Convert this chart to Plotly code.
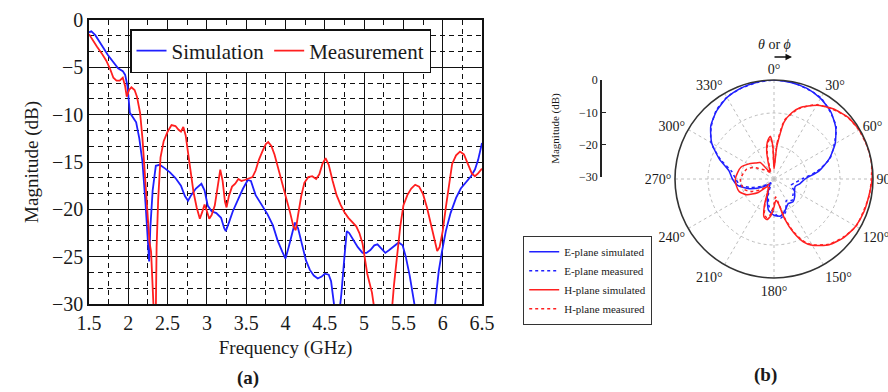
import plotly.graph_objects as go

# ---------------- (a) reflection coefficient ----------------
sim_freq = [1.50, 1.53, 1.58, 1.63, 1.68, 1.74, 1.81, 1.87, 1.93, 1.96, 1.99, 2.02, 2.06, 2.10, 2.14,
            2.18, 2.22, 2.25, 2.265, 2.28, 2.31, 2.35, 2.40, 2.47, 2.53, 2.60, 2.67, 2.72, 2.76, 2.80,
            2.86, 2.93, 2.97, 3.01, 3.06, 3.12, 3.18, 3.22, 3.24, 3.28, 3.33, 3.40, 3.46, 3.52, 3.56,
            3.62, 3.70, 3.77, 3.84, 3.90, 3.96, 4.00, 4.04, 4.08, 4.12, 4.16, 4.21, 4.26, 4.31, 4.36,
            4.41, 4.46, 4.50, 4.55, 4.58, 4.61, 4.64, 4.67, 4.71, 4.75, 4.78, 4.81, 4.86, 4.92, 4.98,
            5.03, 5.08, 5.13, 5.17, 5.22, 5.27, 5.32, 5.38, 5.44, 5.49, 5.53, 5.58, 5.62, 5.65, 5.70,
            5.80, 5.88, 5.91, 5.95, 5.99, 6.04, 6.10, 6.17, 6.23, 6.30, 6.36, 6.41, 6.45, 6.50]
sim_db = [-1.3, -1.2, -1.6, -2.2, -2.9, -3.7, -4.5, -5.1, -5.4, -5.8, -7.0, -9.8, -10.3, -10.8, -12.5,
          -15.0, -19.5, -24.0, -25.5, -22.0, -18.0, -15.4, -15.3, -15.7, -16.1, -16.7, -17.5, -18.6, -19.1, -18.5,
          -17.8, -17.3, -18.0, -19.6, -20.2, -20.4, -20.9, -22.0, -22.3, -21.4, -20.2, -18.9, -17.8, -16.9, -17.0,
          -18.5, -19.6, -20.5, -21.7, -23.3, -24.5, -25.2, -24.0, -22.6, -21.4, -22.0, -23.6, -25.4, -26.4, -27.0,
          -27.3, -27.1, -26.8, -26.9, -27.6, -29.3, -31.5, -32.0, -29.0, -25.0, -22.3, -22.5, -23.2, -24.0, -24.6,
          -24.6, -24.3, -23.8, -23.7, -24.2, -24.6, -24.3, -23.9, -23.5, -23.8, -25.0, -27.0, -29.0, -30.5, -33.0,
          -35.0, -32.0, -29.5, -26.5, -24.5, -22.3, -20.4, -18.8, -17.8, -17.1, -16.5, -15.8, -14.8, -13.0]

meas_freq = [1.50, 1.55, 1.60, 1.66, 1.72, 1.77, 1.81, 1.85, 1.89, 1.93, 1.96, 1.98, 2.01, 2.04, 2.08,
             2.11, 2.15, 2.18, 2.21, 2.24, 2.27, 2.29, 2.31, 2.33, 2.35, 2.36, 2.38, 2.41, 2.45, 2.50,
             2.55, 2.60, 2.64, 2.67, 2.70, 2.73, 2.76, 2.79, 2.83, 2.87, 2.91, 2.94, 2.97, 3.00, 3.03,
             3.06, 3.10, 3.13, 3.17, 3.20, 3.23, 3.25, 3.28, 3.32, 3.36, 3.40, 3.44, 3.48, 3.52, 3.58,
             3.62, 3.66, 3.71, 3.75, 3.78, 3.82, 3.86, 3.90, 3.94, 3.98, 4.02, 4.06, 4.10, 4.13, 4.16,
             4.20, 4.24, 4.29, 4.34, 4.39, 4.43, 4.47, 4.51, 4.55, 4.60, 4.65, 4.70, 4.75, 4.80, 4.85,
             4.90, 4.94, 4.98, 5.01, 5.04, 5.07, 5.10, 5.13, 5.18, 5.30, 5.35, 5.38, 5.42, 5.46, 5.50,
             5.55, 5.60, 5.65, 5.70, 5.75, 5.80, 5.85, 5.89, 5.93, 5.96, 6.00, 6.04, 6.08, 6.12, 6.17,
             6.22, 6.27, 6.32, 6.37, 6.41, 6.45, 6.50]
meas_db = [-1.5, -2.2, -2.8, -3.5, -4.3, -5.2, -6.1, -6.4, -6.4, -6.1, -7.0, -8.1, -7.4, -7.1, -7.4,
           -8.1, -9.8, -12.5, -16.0, -20.0, -23.5, -24.5, -27.5, -32.0, -31.0, -24.0, -19.0, -14.5, -12.8, -11.8,
           -11.1, -11.2, -11.6, -11.8, -11.3, -12.2, -14.0, -16.0, -18.2, -19.8, -21.0, -20.3, -19.5, -20.2, -21.0,
           -20.6, -19.6, -18.0, -15.8, -17.0, -19.2, -19.8, -18.6, -17.6, -17.3, -16.8, -17.0, -16.9, -16.8, -16.6,
           -15.9, -14.8, -13.8, -13.1, -12.9, -13.3, -14.2, -15.4, -16.6, -17.8, -19.0, -20.4, -21.8, -22.2, -20.6,
           -18.6, -17.2, -16.6, -16.5, -16.8, -16.3, -15.2, -14.6, -15.3, -17.0, -18.5, -19.5, -20.3, -20.9, -21.4,
           -21.8, -22.5, -23.6, -25.2, -26.8, -27.8, -28.8, -30.5, -34.0, -34.0, -31.0, -28.0, -24.5, -21.8, -19.6,
           -18.5, -17.8, -17.4, -17.6, -18.4, -19.8, -21.6, -23.2, -24.4, -24.0, -22.3, -19.8, -17.2, -15.2, -14.3,
           -13.9, -14.2, -15.2, -16.2, -16.5, -16.2, -15.7]

x_ticks = [1.5, 2, 2.5, 3, 3.5, 4, 4.5, 5, 5.5, 6, 6.5]
x_tick_text = ["1.5", "2", "2.5", "3", "3.5", "4", "4.5", "5", "5.5", "6", "6.5"]
y_ticks = [0, -5, -10, -15, -20, -25, -30]

# ---------------- (b) radiation patterns ----------------
e_ang = [0, 10, 20, 30, 40, 50, 60, 70, 80, 90, 100, 110, 120, 130, 140, 150, 160, 170, 180,
         190, 200, 210, 220, 230, 240, 250, 260, 270, 280, 290, 300, 310, 320, 330, 340, 350, 360]
e_sim = [0, -0.3, -0.8, -1.8, -3.3, -5.6, -8.6, -12.2, -16.2, -20.6, -22.0, -23.2, -22.8, -21.8, -21.0,
         -21.4, -20.0, -18.6, -19.0, -20.4, -24.0, -27.0, -28.0, -26.8, -24.6, -21.6, -18.8, -17.4, -16.2,
         -12.4, -8.2, -5.0, -3.0, -1.5, -0.7, -0.2, 0]
e_meas = [0, -0.2, -0.9, -1.6, -3.5, -5.4, -8.9, -12.0, -16.8, -21.5, -23.5, -24.5, -23.0, -22.5, -21.5,
          -22.5, -19.5, -18.0, -19.8, -21.5, -25.0, -28.0, -28.5, -27.5, -25.5, -22.5, -19.5, -18.4, -17.0,
          -12.8, -8.0, -5.2, -2.8, -1.4, -0.8, -0.3, 0]

h_ang = [0, 5, 10, 15, 20, 30, 40, 50, 60, 70, 80, 90, 100, 110, 120, 130, 140, 150,
         155, 160, 165, 170, 175, 180, 185, 190, 195, 200,
         210, 220, 230, 240, 250, 260, 270, 280, 290, 300, 310, 320, 330, 340,
         345, 350, 355, 358, 360]
h_sim = [-27.0, -20.0, -12.5, -9.2, -7.0, -4.2, -2.2, -0.8, -0.2, 0, 0, -0.3, -0.8, -1.0, -1.4, -2.4, -4.0, -6.8,
         -9.0, -12.8, -17.5, -22.5, -23.5, -21.5, -18.8, -17.5, -18.2, -21.5,
         -26.5, -27.0, -23.5, -20.5, -18.8, -18.4, -18.3, -18.8, -19.4, -21.0, -22.5, -23.5, -27.5, -25.0,
         -21.5, -18.5, -17.0, -20.0, -27.0]
h_meas = [-26.0, -19.0, -12.0, -9.5, -7.2, -4.0, -2.4, -0.9, -0.3, -0.1, 0, -0.5, -0.7, -1.2, -1.3, -2.6, -4.2, -7.0,
          -9.4, -13.2, -18.0, -23.0, -24.5, -22.5, -19.5, -18.0, -18.8, -22.0,
          -27.0, -28.0, -25.0, -22.5, -20.5, -20.0, -19.8, -20.5, -21.2, -23.0, -25.5, -26.5, -28.0, -26.0,
          -22.0, -19.0, -17.5, -20.5, -26.0]

ang_ticks = [0, 30, 60, 90, 120, 150, 180, 210, 240, 270, 300, 330]
ang_text = [f"{a}°" for a in ang_ticks]
mag_ticks = [0, -10, -20, -30]

SERIF = "Liberation Serif, Times New Roman, serif"
TXT = "#1a1a1a"
W, H = 888, 392

def px(x):
    return x / W

def py(y):
    return 1 - y / H

fig = go.Figure()

fig.add_trace(go.Scatter(x=sim_freq, y=sim_db, mode="lines", name="Simulation",
                         line=dict(color="#1f1fff", width=1.8)))
fig.add_trace(go.Scatter(x=meas_freq, y=meas_db, mode="lines", name="Measurement",
                         line=dict(color="#ff1f1f", width=1.8)))

POL = dict(width=1.5, shape="spline", smoothing=0.6)
fig.add_trace(go.Scatterpolar(r=e_sim, theta=e_ang, mode="lines", name="E-plane simulated",
                              line=dict(color="#2020ff", **POL), legend="legend2"))
fig.add_trace(go.Scatterpolar(r=e_meas, theta=e_ang, mode="lines", name="E-plane measured",
                              line=dict(color="#2020ff", dash="3px,3px", **POL), legend="legend2"))
fig.add_trace(go.Scatterpolar(r=h_sim, theta=h_ang, mode="lines", name="H-plane simulated",
                              line=dict(color="#ff2020", **POL), legend="legend2"))
fig.add_trace(go.Scatterpolar(r=h_meas, theta=h_ang, mode="lines", name="H-plane measured",
                              line=dict(color="#ff2020", dash="3px,3px", **POL), legend="legend2"))

# invisible trace to host the stand-alone magnitude scale
fig.add_trace(go.Scatter(x=[0, 0], y=[mag_ticks[0], mag_ticks[-1]], xaxis="x3", yaxis="y3",
                         mode="markers", marker=dict(opacity=0), showlegend=False, hoverinfo="skip"))

fig.update_layout(
    width=W, height=H,
    margin=dict(l=0, r=0, t=0, b=0, autoexpand=False),
    paper_bgcolor="white", plot_bgcolor="white",
    font=dict(family=SERIF, color=TXT),
    xaxis=dict(domain=[px(89), px(482)], range=[1.5, 6.5], tickvals=x_ticks, ticktext=x_tick_text,
               showgrid=True, gridcolor="#111", gridwidth=1.2,
               minor=dict(dtick=0.25, showgrid=True, gridcolor="#111", gridwidth=0.9, griddash="5px,4px"),
               showline=True, mirror=True, linecolor="#111", linewidth=1.6, zeroline=False,
               ticks="", tickfont=dict(size=20, family=SERIF, color=TXT),
               title=dict(text="Frequency (GHz)", font=dict(size=19, family=SERIF, color=TXT), standoff=8),
               anchor="y"),
    yaxis=dict(domain=[py(304), py(20)], range=[-30, 0], tickvals=y_ticks,
               showgrid=True, gridcolor="#111", gridwidth=1.2,
               minor=dict(dtick=5 / 3, tick0=0, showgrid=True, gridcolor="#111", gridwidth=0.9, griddash="5px,4px"),
               showline=True, mirror=True, linecolor="#111", linewidth=1.6, zeroline=False,
               ticks="", tickfont=dict(size=20, family=SERIF, color=TXT),
               title=dict(text="Magnitude (dB)", font=dict(size=19, family=SERIF, color=TXT), standoff=8),
               anchor="x"),
    xaxis3=dict(domain=[px(601), px(602)], visible=False, range=[0, 1], anchor="y3"),
    yaxis3=dict(domain=[py(177), py(80)], range=[-30, 0], tickvals=mag_ticks, anchor="free",
                position=px(601), showline=True, linecolor="#222", linewidth=1.6, showgrid=False,
                zeroline=False, ticks="inside", ticklen=4, tickcolor="#222",
                tickfont=dict(size=12, family=SERIF, color=TXT),
                title=dict(text="Magnitude (dB)", font=dict(size=11, family=SERIF, color=TXT), standoff=16)),
    polar=dict(
        domain=dict(x=[px(675), px(873)], y=[py(278), py(80)]),
        bgcolor="white",
        radialaxis=dict(range=[-30, 0], tickvals=[-20, -10], showticklabels=False, ticks="",
                        showline=False, gridcolor="#bdbdbd", griddash="dot", gridwidth=1),
        angularaxis=dict(rotation=90, direction="clockwise", tickvals=ang_ticks, ticktext=ang_text,
                         ticks="", showline=True, linecolor="#333", linewidth=1.6,
                         gridcolor="#bdbdbd", griddash="dot", gridwidth=1,
                         tickfont=dict(size=14, family=SERIF, color=TXT)),
    ),
    legend=dict(x=px(130), y=py(29), xanchor="left", yanchor="top", orientation="h",
                bgcolor="white", bordercolor="#111", borderwidth=1.5,
                font=dict(size=21, family=SERIF, color=TXT), itemwidth=30),
    legend2=dict(x=px(523), y=py(236), xanchor="left", yanchor="top", orientation="v",
                 bgcolor="white", bordercolor="#333", borderwidth=1.2, tracegroupgap=0,
                 font=dict(size=11, family=SERIF, color=TXT)),
    annotations=[
        dict(text="<b>(a)</b>", x=px(248), y=py(378), xref="paper", yref="paper", showarrow=False,
             xanchor="center", yanchor="middle", font=dict(size=19, family=SERIF, color=TXT)),
        dict(text="<b>(b)</b>", x=px(765), y=py(375), xref="paper", yref="paper", showarrow=False,
             xanchor="center", yanchor="middle", font=dict(size=19, family=SERIF, color=TXT)),
        dict(text="<i>θ</i> or <i>ϕ</i>", x=px(774), y=py(45), xref="paper", yref="paper", showarrow=False,
             xanchor="center", yanchor="middle", font=dict(size=14, family=SERIF, color=TXT)),
        dict(text="", x=px(792), y=py(57), xref="paper", yref="paper", showarrow=True,
             ax=-19, ay=0, arrowhead=2, arrowsize=1, arrowwidth=1.3, arrowcolor="#111"),
    ],
)

fig.write_html("out.html")
